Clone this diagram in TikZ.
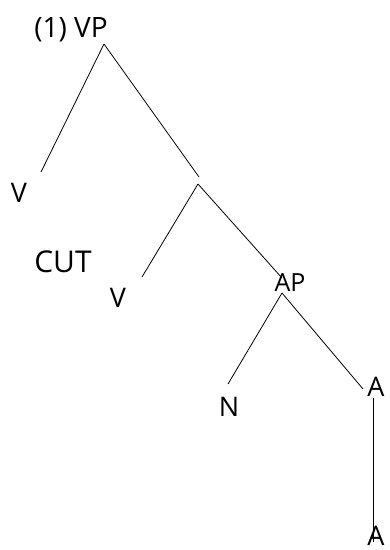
\documentclass[tikz,border=0pt]{standalone}
\usepackage{fontspec}
\setmainfont{Open Sans}
\begin{document}
\begin{tikzpicture}[x=1pt,y=-1pt,
  lbl/.style={inner sep=0pt, anchor=base, font=\fontsize{27}{27}\selectfont},
  branch/.style={line width=0.8pt}]
\useasboundingbox (0,0) rectangle (390,550);

% category labels
\node[lbl, font=\fontsize{28}{28}\selectfont] (vp) at (71,37) {(1) VP};
\node[lbl] (v1)  at (19,202) {V};
\node[lbl, font=\fontsize{30}{30}\selectfont] (cut) at (63,272) {CUT};
\node[lbl] (v2)  at (118,307) {V};
\node[lbl, font=\fontsize{25}{25}\selectfont] (ap) at (290,291) {AP};
\node[lbl] (n)   at (229,416) {N};
\node[lbl] (a1)  at (376,396) {A};
\node[lbl] (a2)  at (376,545) {A};

% branch end points
\coordinate (vptop) at (104,44);
\coordinate (v1top) at (41,172);
\coordinate (mid1)  at (199,177);
\coordinate (mid2)  at (198,184);
\coordinate (v2top) at (142,277);
\coordinate (apin)  at (282,278);
\coordinate (apbot) at (282,293);
\coordinate (ntop)  at (228,384);
\coordinate (a1in)  at (363,389);
\coordinate (a1bot) at (373,398);
\coordinate (a2top) at (373,542);

% branches
\draw[branch] (vptop) -- (v1top);
\draw[branch] (vptop) -- (mid1);
\draw[branch] (mid2) -- (v2top);
\draw[branch] (mid2) -- (apin);
\draw[branch] (apbot) -- (ntop);
\draw[branch] (apbot) -- (a1in);
\draw[branch] (a1bot) -- (a2top);
\end{tikzpicture}
\end{document}
